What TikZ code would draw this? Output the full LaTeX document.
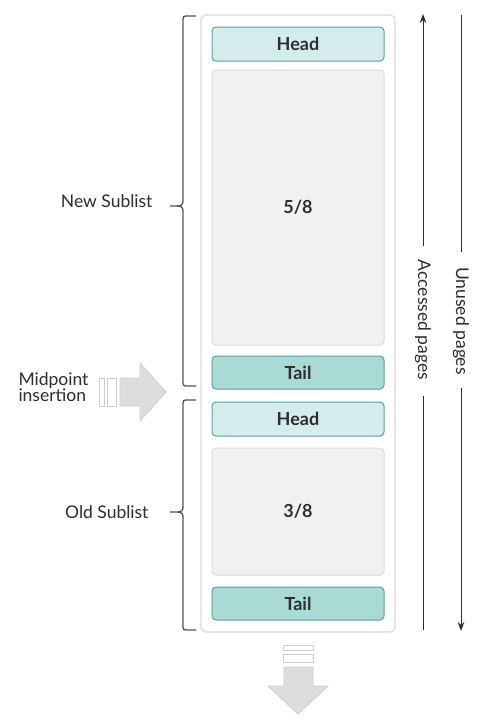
\documentclass[tikz,border=0pt]{standalone}
\usepackage{fontspec}
\setmainfont{Lato}
\usetikzlibrary{arrows.meta}
\definecolor{headfill}{HTML}{D3ECEC}
\definecolor{tailfill}{HTML}{A9DAD6}
\definecolor{tealline}{HTML}{5F9F9B}
\definecolor{pagefill}{HTML}{F2F1F1}
\definecolor{pageline}{HTML}{DCDADA}
\definecolor{txt}{HTML}{2E2E2E}
\definecolor{bracec}{HTML}{555555}
\definecolor{bigarrow}{HTML}{DEDDDC}
\definecolor{bigarrowline}{HTML}{D0CFCE}
\begin{document}
\begin{tikzpicture}[x=1pt,y=-1pt,
  pagebox/.style={draw=pageline,fill=pagefill,line width=1pt,rounded corners=4pt,minimum width=172pt,font=\bfseries\fontsize{18}{21}\selectfont,text=txt},
  headbox/.style={draw=tealline,fill=headfill,line width=1pt,rounded corners=4pt,minimum width=172pt,minimum height=34pt,font=\bfseries\fontsize{18}{21}\selectfont,text=txt},
  tailbox/.style={headbox,fill=tailfill,minimum height=33pt},
  lbl/.style={font=\fontsize{17.5}{20}\selectfont,text=txt,align=left},
  bracestyle/.style={draw=bracec,line width=1.3pt},
  sidearrow/.style={draw=txt,line width=1pt},
  tip/.style={-{Stealth[length=9pt,width=6.5pt]}},
  bigarr/.style={fill=bigarrow,draw=bigarrowline,line width=0.8pt},
  bar/.style={fill=white,draw=bigarrowline,line width=1pt}]
\useasboundingbox (0,0) rectangle (481,721);
\fill[white] (0,0) rectangle (481,721);
% outer container
\node[draw=pageline,fill=white,line width=1.2pt,rounded corners=5pt,minimum width=194pt,minimum height=617pt,inner sep=0pt] (outer) at (298,323.5) {};
% boxes
\node[headbox,inner sep=0pt] (head1) at (298,44) {Head};
\node[pagebox,minimum height=275pt,inner sep=0pt] (p58) at (298,207.5) {5/8};
\node[tailbox,inner sep=0pt] (tail1) at (298,372.5) {Tail};
\node[headbox,inner sep=0pt] (head2) at (298,419) {Head};
\node[pagebox,minimum height=127pt,inner sep=0pt] (p38) at (298,511.5) {3/8};
\node[tailbox,inner sep=0pt] (tail2) at (298,603.5) {Tail};
% braces
\draw[bracestyle,rounded corners=2.5pt] (196,16) -- (183,16) -- (183,201);
\draw[bracestyle] (183,201) .. controls (183,205) and (181,206) .. (177,206) -- (170,206);
\draw[bracestyle] (183,211) .. controls (183,207) and (181,206) .. (177,206);
\draw[bracestyle,rounded corners=2.5pt] (183,211) -- (183,386) -- (196,386);
\draw[bracestyle,rounded corners=2.5pt] (196,400) -- (183,400) -- (183,507);
\draw[bracestyle] (183,507) .. controls (183,511) and (181,512) .. (177,512) -- (170,512);
\draw[bracestyle] (183,517) .. controls (183,513) and (181,512) .. (177,512);
\draw[bracestyle,rounded corners=2.5pt] (183,517) -- (183,630) -- (196,630);
\node[lbl,anchor=east] (newl) at (156,201) {New Sublist};
\node[lbl,anchor=east] (oldl) at (152,512) {Old Sublist};
% midpoint insertion
\node[lbl,anchor=east,align=left] (mid) at (92,387) {Midpoint\\[-4pt]insertion};
\path[bar] (99,378) rectangle (104,406);
\path[bar] (107,378) rectangle (116,406);
\path[bigarr] (120,378) -- (140,378) -- (140,363) -- (166,392) -- (140,421) -- (140,406) -- (120,406) -- cycle;
% bottom arrow
\path[bar] (283,645) rectangle (313,650);
\path[bar] (283,654) rectangle (313,662);
\path[bigarr] (284,667) -- (313,667) -- (313,686) -- (328,686) -- (298,714) -- (268,686) -- (284,686) -- cycle;
% side arrows
\coordinate (acctop) at (423,14);
\coordinate (accgap1) at (423,246);
\coordinate (accgap2) at (423,396);
\coordinate (accbot) at (423,630);
\coordinate (unutop) at (461,15);
\coordinate (unugap1) at (461,252);
\coordinate (unugap2) at (461,388);
\coordinate (unubot) at (461,631);
\node[lbl,rotate=-90] (acc) at (423,320) {Accessed pages};
\node[lbl,rotate=-90] (unu) at (461,321) {Unused pages};
\draw[sidearrow,tip] (accgap1) -- (acctop);
\draw[sidearrow] (accgap2) -- (accbot);
\draw[sidearrow] (unutop) -- (unugap1);
\draw[sidearrow,tip] (unugap2) -- (unubot);
\end{tikzpicture}
\end{document}
